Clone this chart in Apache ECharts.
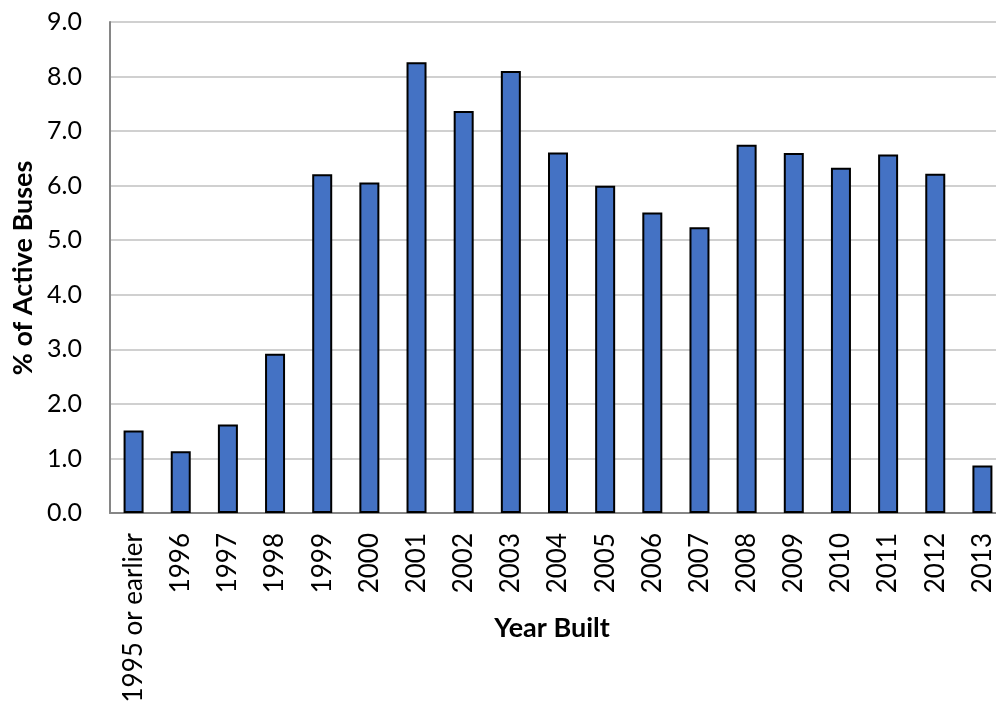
<!DOCTYPE html>
<html>
<head>
<meta charset="utf-8">
<script src="https://cdn.jsdelivr.net/npm/echarts@6/dist/echarts.min.js"></script>
<style>
html,body{margin:0;padding:0;background:#fff;}
#c{width:996px;height:704px;}
</style>
</head>
<body>
<div id="c"></div>
<script>
const categories = ['1995 or earlier','1996','1997','1998','1999','2000','2001','2002','2003','2004','2005','2006','2007','2008','2009','2010','2011','2012','2013'];
const values = [1.51,1.13,1.62,2.92,6.21,6.06,8.26,7.37,8.10,6.61,6.00,5.51,5.24,6.75,6.60,6.33,6.57,6.22,0.87];
const yTicks = [0,1,2,3,4,5,6,7,8,9];
const xTitle = 'Year Built';
const yTitle = '% of Active Buses';

const chart = echarts.init(document.getElementById('c'), null, {renderer:'canvas'});
const font = 'Lato, "Open Sans", sans-serif';
chart.setOption({
  animation:false,
  backgroundColor:'#fff',
  grid:{left:110, top:22, width:896, bottom:191, containLabel:false, outerBoundsMode:'none'},
  graphic:[
    {type:'text', x:552, y:628, style:{text:xTitle, font:'bold 27px Lato, "Open Sans", sans-serif', fill:'#000', align:'center', verticalAlign:'middle'}},
    {type:'text', x:23, y:268, rotation:Math.PI/2, style:{text:yTitle, font:'bold 27px Lato, "Open Sans", sans-serif', fill:'#000', align:'center', verticalAlign:'middle'}}
  ],
  xAxis:{
    type:'category',
    data:categories,
    axisLine:{show:true, lineStyle:{color:'#868686', width:2}},
    axisTick:{show:false},
    axisLabel:{rotate:90, interval:0, margin:20, fontFamily:font, fontSize:26, color:'#000'}
  },
  yAxis:{
    type:'value',
    min:0, max:9, interval:1,
    axisLine:{show:true, lineStyle:{color:'#868686', width:2}},
    axisTick:{show:false},
    axisLabel:{margin:28, fontFamily:font, fontSize:25, color:'#000', formatter:v=>yTicks.includes(v)?v.toFixed(1):''},
    splitLine:{show:true, lineStyle:{color:'#d0d0d0', width:2}}
  },
  series:[{
    type:'bar',
    data:values,
    barWidth:20,
    itemStyle:{color:'#4472C4', borderColor:'#000', borderWidth:2}
  }]
});
</script>
</body>
</html>
